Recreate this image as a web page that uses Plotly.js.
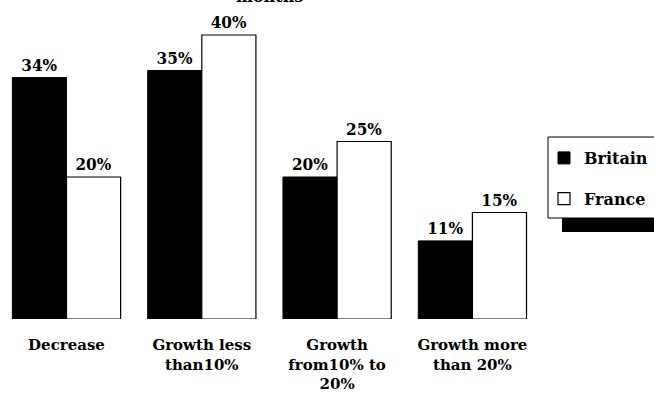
<!DOCTYPE html>
<html>
<head>
<meta charset="utf-8">
<script src="https://cdn.plot.ly/plotly-3.0.1.min.js"></script>
<style>html,body{margin:0;padding:0;background:#fff;}#chart{width:654px;height:393px;}</style>
</head>
<body>
<div id="chart"></div>
<script>
var categories = ["Decrease", "Growth less<br>than10%", "Growth<br>from10% to<br>20%", "Growth more<br>than 20%"];
var britain = [34, 35, 20, 11];
var france = [20, 40, 25, 15];
var seriesNames = ["Britain", "France"];
var titleText = "months";

var fam = "DejaVu Serif, serif";
var famCond = "DejaVu Serif Condensed, DejaVu Serif, serif";
var tickFont = {family: fam, size: 15, color: "#000", weight: "bold"};
var valFont = {family: famCond, size: 17, color: "#000", weight: "bold"};
var legFont = {family: fam, size: 16, color: "#000", weight: "bold"};

var traces = [
  {type: "bar", name: seriesNames[0], x: [0,1,2,3], y: britain, legendgroup: "a",
   marker: {color: "#000", line: {color: "#000", width: 1}},
   texttemplate: "%{y}%", textposition: "outside", textfont: valFont, cliponaxis: false, hoverinfo: "none"},
  {type: "bar", name: seriesNames[1], x: [0,1,2,3], y: france, legendgroup: "b",
   marker: {color: "#fff", line: {color: "#000", width: 1.2}},
   texttemplate: "%{y}%", textposition: "outside", textfont: valFont, cliponaxis: false, hoverinfo: "none"}
];

var plotW = 544, plotH = 319;
function px2x(p){ return p / plotW; }
function px2y(p){ return 1 - p / plotH; }

var layout = {
  width: 654, height: 393,
  margin: {l: 0, r: 110, t: 0, b: 74},
  paper_bgcolor: "#fff", plot_bgcolor: "#fff",
  barmode: "group", bargap: 0.2, bargroupgap: 0,
  showlegend: true,
  xaxis: {type: "linear", range: [-0.4915, -0.4915 + plotW / 135.3],
          tickvals: [0,1,2,3], ticktext: categories, showgrid: false, zeroline: false,
          showline: false, ticks: "", tickfont: tickFont, ticklabelstandoff: 15, fixedrange: true},
  yaxis: {range: [0, plotH / 7.1], visible: false, fixedrange: true},
  legend: {x: px2x(544), y: px2y(141), xanchor: "left", yanchor: "top",
           bgcolor: "rgba(0,0,0,0)", borderwidth: 0, font: legFont,
           tracegroupgap: 17, traceorder: "grouped"},
  shapes: [
    {type: "rect", xref: "paper", yref: "paper", x0: px2x(562), x1: px2x(670), y0: px2y(151), y1: px2y(232),
     fillcolor: "#000", line: {width: 0}, layer: "above"},
    {type: "rect", xref: "paper", yref: "paper", x0: px2x(548), x1: px2x(665), y0: px2y(137), y1: px2y(218),
     fillcolor: "#fff", line: {color: "#000", width: 1}, layer: "above"}
  ],
  annotations: [
    {text: titleText, xref: "paper", yref: "paper", x: px2x(269), y: 1, xanchor: "center", yanchor: "middle",
     yshift: 4, showarrow: false, font: {family: fam, size: 16, color: "#000", weight: "bold"}}
  ]
};

Plotly.newPlot("chart", traces, layout, {displayModeBar: false, staticPlot: true});
</script>
</body>
</html>
